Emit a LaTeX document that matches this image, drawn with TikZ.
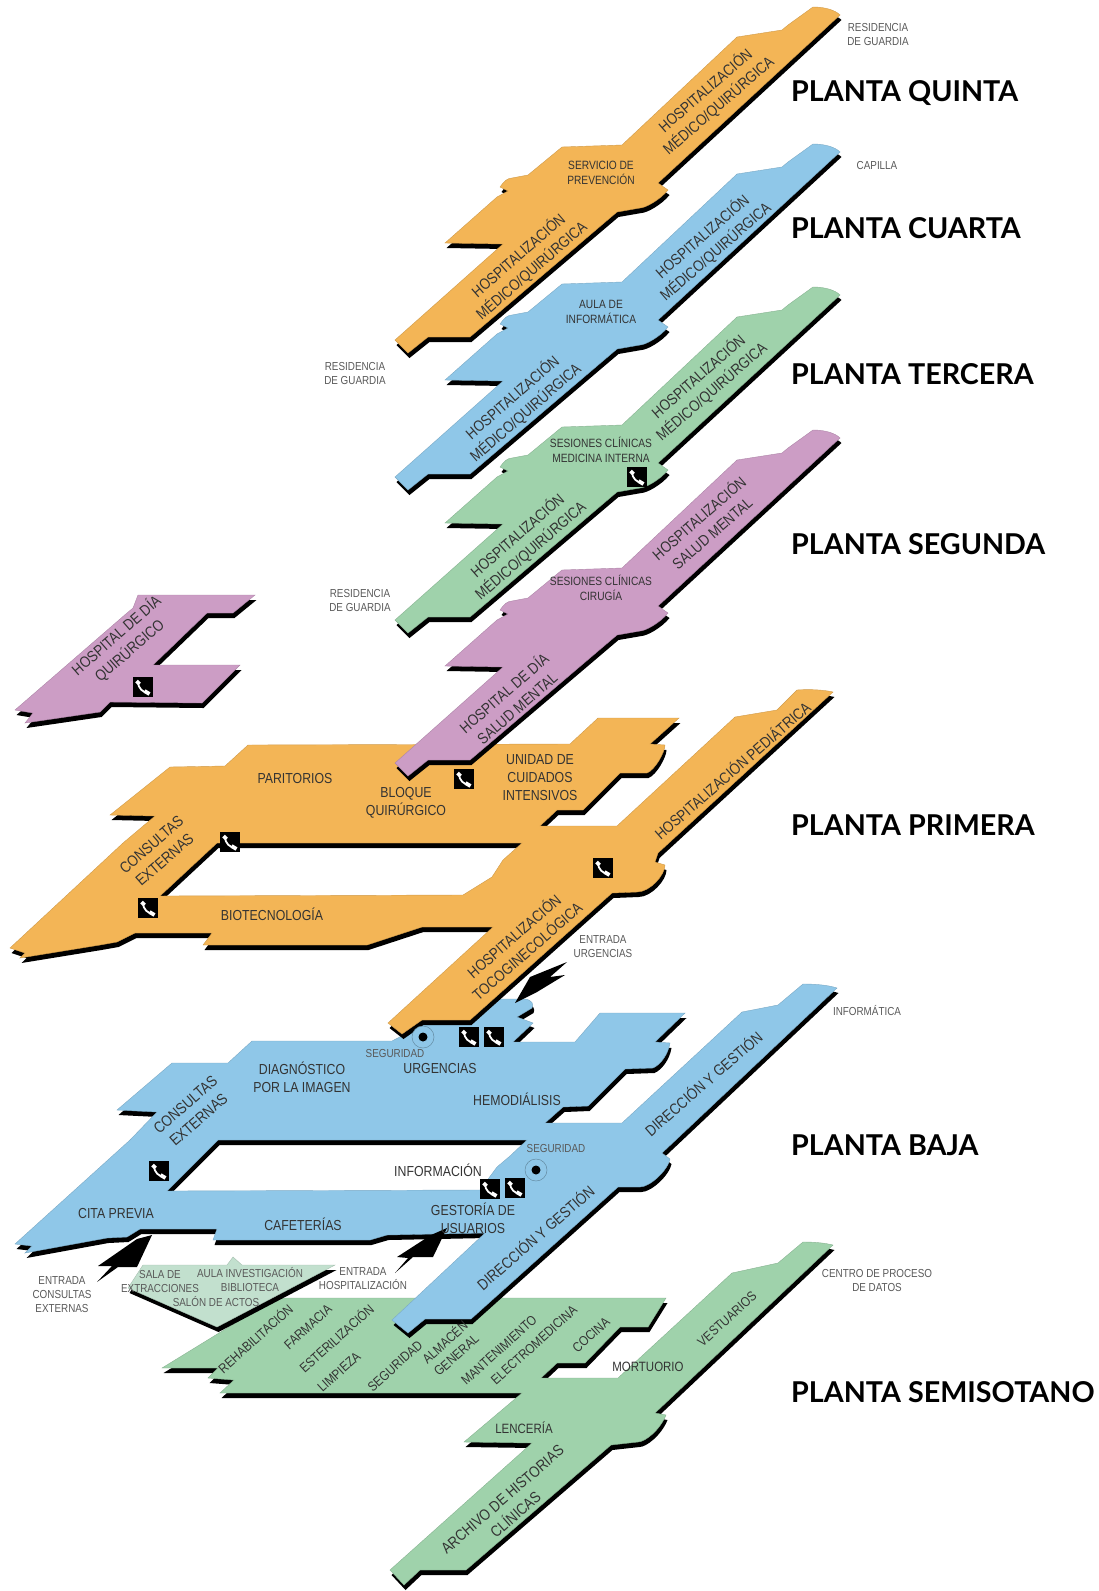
\documentclass[tikz,border=0pt]{standalone}
\usepackage{fontspec}
\setmainfont{Liberation Sans}[FakeStretch=0.85]
\newfontfamily\titulofont{Lato}

\definecolor{naranja}{HTML}{F3B556}
\definecolor{azul}{HTML}{8FC7E8}
\definecolor{verde}{HTML}{9FD2AB}
\definecolor{malva}{HTML}{CC9DC5}
\definecolor{verdeclaro}{HTML}{C2E0CE}

\newcommand{\planta}[2]{%
    \fill[black, even odd rule, shift={(1.5,5)}] #2;
    \filldraw[#1, draw=#1!85!black, line width=0.4pt, even odd rule] #2;
}
\newcommand{\torre}{(813,7) .. controls (825,7) and (835,10) .. (840,15) -- (658,183) -- (668,190)
    .. controls (660,200) and (645,208) .. (640,208) -- (617,212) -- (470,337) -- (428,337) -- (408,353)
    -- (395,340) -- (503,244) -- (445,243) -- (497,197) -- (508,191) -- (500,187)
    .. controls (504,181) and (508,178) .. (512,178) -- (528,175) -- (562,147) -- (622,145) -- (737,37)
    -- (782,30) -- (788,25) -- cycle}

\tikzset{
    grande/.style={text=black!80, font=\fontsize{14.5}{18}\selectfont, align=center, inner sep=0pt},
    giro/.style={text=black!80, font=\fontsize{15.5}{20}\selectfont, align=center, inner sep=0pt, rotate=41},
    media/.style={text=black!80, font=\fontsize{12}{15}\selectfont, align=center, inner sep=0pt},
    sotano/.style={text=black!80, font=\fontsize{13.5}{17}\selectfont, align=center, inner sep=0pt},
    rotulo/.style={text=black!65, font=\fontsize{11.6}{14}\selectfont, align=center, inner sep=0pt},
    titulo/.style={anchor=west, text=black, inner sep=0pt, font=\titulofont\bfseries\fontsize{28.7}{30}\selectfont},
    telefono/.pic={
        \fill[black] (-10,-10) rectangle (10,10);
        \draw[white, line width=1.8pt] (-5,-5) .. controls (-5,1) and (0,6) .. (6,6);
        \draw[white, line width=3.8pt] (-6.5,-6) -- (-3.5,-3);
        \draw[white, line width=3.8pt] (1.5,4) -- (6.5,7);
    },
    seguridad/.pic={
        \draw[azul!70!black, line width=0.5pt, fill=azul] (0,0) circle (11);
        \fill[black] (0,0) circle (4.5);
    }
}

\begin{document}
\begin{tikzpicture}[x=1pt, y=-1pt]
    \useasboundingbox (0,0) rectangle (1099,1591);

    % semisotano
    \planta{verde}{(803,1242) .. controls (815,1242) and (825,1243) .. (833,1245) -- (655,1413) -- (666,1415)
        .. controls (660,1430) and (645,1442) .. (638,1442) -- (611,1445) -- (466,1570) -- (420,1570) -- (404,1585)
        -- (390,1570) -- (532,1443) -- (464,1442) -- (522,1393) -- (220,1393) -- (234,1380) -- (208,1378)
        -- (218,1368) -- (162,1368) -- (276,1298) -- (666,1298) -- (648,1327) -- (620,1327) -- (585,1363)
        -- (557,1363) -- (541,1378) -- (618,1378) -- (732,1273) -- (778,1263) -- cycle}
    \planta{verdeclaro}{(143,1265) -- (227,1265) -- (233,1257) -- (242,1265) -- (335,1265) -- (217,1327) -- (128,1288) -- cycle}

    % baja
    \planta{azul}{(803,984) .. controls (815,984) and (828,985) .. (837,988) -- (662,1153) -- (670,1159)
        .. controls (668,1170) and (650,1187) .. (640,1187) -- (618,1187) -- (471,1319) -- (425,1319) -- (408,1333)
        -- (392,1320) -- (485,1233) -- (387,1235) -- (370,1240) -- (213,1240) -- (217,1229) -- (140,1229)
        -- (127,1237) -- (107,1238) -- (25,1253) -- (32,1246) -- (15,1244) -- (130,1140) -- (157,1112)
        -- (117,1110) -- (172,1063) -- (228,1063) -- (252,1041) -- (392,1041) -- (473,999) -- (525,999)
        .. controls (532,1000) and (534,1004) .. (532,1008) -- (517,1017) -- (533,1023) -- (513,1042) -- (575,1042)
        -- (600,1013) -- (685,1013) -- (655,1042) -- (670,1043) .. controls (668,1055) and (660,1065) .. (653,1068)
        -- (625,1069) -- (588,1106) -- (563,1107) -- (545,1123) -- (622,1123) -- (742,1012) -- (778,1005) -- cycle
        (218,1140) -- (527,1140) -- (510,1156) -- (497,1167) -- (480,1190) -- (167,1191) -- cycle}

    % flechas de entrada
    \fill[black] (515,1003) -- (530,977) -- (567,962) -- (550,977) -- (565,975) -- (537,992) -- cycle;
    \fill[black] (152,1235) -- (137,1267) -- (118,1267) -- (97,1282) -- (112,1266) -- (98,1266) -- (137,1239) -- cycle;
    \fill[black] (447,1228) -- (433,1257) -- (413,1257) -- (395,1273) -- (408,1258) -- (397,1257) -- (431,1235) -- cycle;

    % primera
    \planta{naranja}{(797,690) .. controls (810,689) and (825,690) .. (833,692) -- (658,853) -- (655,862) -- (665,865)
        .. controls (665,875) and (650,892) .. (637,892) -- (612,893) -- (470,1020) -- (422,1020) -- (402,1034)
        -- (388,1023) -- (493,927) -- (422,927) -- (367,945) -- (203,945) -- (212,933) -- (135,933) -- (117,942)
        -- (100,945) -- (20,958) -- (25,953) -- (10,948) -- (123,843) -- (155,816) -- (110,815) -- (170,767)
        -- (225,766) -- (248,745) -- (570,744) -- (598,718) -- (679,718) -- (650,744) -- (665,745)
        .. controls (665,752) and (655,770) .. (647,773) -- (620,773) -- (583,810) -- (557,810) -- (540,826)
        -- (617,826) -- (735,717) -- (777,710) -- cycle
        (217,843) -- (522,843) -- (503,860) -- (492,877) -- (463,895) -- (160,896) -- cycle}

    % malva suelto
    \planta{malva}{(138,595) -- (255,595) -- (233,613) -- (207,613) -- (153,665) -- (240,665) -- (202,703)
        -- (110,702) -- (100,712) -- (25,723) -- (33,713) -- (15,710) -- (127,613) -- (133,608) -- cycle}

    % torre
    \begin{scope}[shift={(0,423)}]
        \planta{malva}{\torre}
    \end{scope}
    \begin{scope}[shift={(0,280)}]
        \planta{verde}{\torre}
    \end{scope}
    \begin{scope}[shift={(0,137)}]
        \planta{azul}{\torre}
    \end{scope}
    \planta{naranja}{\torre}

    % telefonos
    \pic at (637,477) {telefono};
    \pic at (143,687) {telefono};
    \pic at (464,779) {telefono};
    \pic at (603,868) {telefono};
    \pic at (230,842) {telefono};
    \pic at (148,908) {telefono};
    \pic at (469,1037) {telefono};
    \pic at (494,1037) {telefono};
    \pic at (490,1189) {telefono};
    \pic at (515,1188) {telefono};
    \pic at (159,1171) {telefono};
    \pic at (423,1037) {seguridad};
    \pic at (536,1170) {seguridad};

    % titulos
    \node[titulo] (quinta) at (791,93) {PLANTA QUINTA};
    \node[titulo] (cuarta) at (791,228) {PLANTA CUARTA};
    \node[titulo] (tercera) at (791,374) {PLANTA TERCERA};
    \node[titulo] (segunda) at (791,544) {PLANTA SEGUNDA};
    \node[titulo] (primera) at (791,825) {PLANTA PRIMERA};
    \node[titulo] (baja) at (791,1145) {PLANTA BAJA};
    \node[titulo] (semisotano) at (791,1392) {PLANTA SEMISOTANO};

    % rotulos exteriores
    \node[rotulo] (resq) at (878,35) {RESIDENCIA\\DE GUARDIA};
    \node[rotulo] (capilla) at (877,166) {CAPILLA};
    \node[rotulo] (rest) at (355,373) {RESIDENCIA\\DE GUARDIA};
    \node[rotulo] (ress) at (360,600) {RESIDENCIA\\DE GUARDIA};
    \node[rotulo] (informatica) at (867,1011) {INFORMÁTICA};
    \node[rotulo] (cpd) at (877,1280) {CENTRO DE PROCESO\\DE DATOS};
    \node[rotulo] (eurgencias) at (603,947) {ENTRADA\\URGENCIAS};
    \node[rotulo] (econsultas) at (62,1295) {ENTRADA\\CONSULTAS\\EXTERNAS};
    \node[rotulo] (ehosp) at (363,1279) {ENTRADA\\HOSPITALIZACIÓN};

    % quinta a segunda
    \node[giro] (q1) at (712,98) {HOSPITALIZACIÓN\\MÉDICO/QUIRÚRGICA};
    \node[media] (q2) at (601,173) {SERVICIO DE\\PREVENCIÓN};
    \node[giro] (q3) at (525,263) {HOSPITALIZACIÓN\\MÉDICO/QUIRÚRGICA};
    \node[giro] (c1) at (709,244) {HOSPITALIZACIÓN\\MÉDICO/QUIRÚRGICA};
    \node[media] (c2) at (601,312) {AULA DE\\INFORMÁTICA};
    \node[giro] (c3) at (519,405) {HOSPITALIZACIÓN\\MÉDICO/QUIRÚRGICA};
    \node[giro] (t1) at (705,384) {HOSPITALIZACIÓN\\MÉDICO/QUIRÚRGICA};
    \node[media] (t2) at (601,450) {SESIONES CLÍNICAS\\MEDICINA INTERNA};
    \node[giro] (t3) at (524,543) {HOSPITALIZACIÓN\\MÉDICO/QUIRÚRGICA};
    \node[giro] (s1) at (705,525) {HOSPITALIZACIÓN\\SALUD MENTAL};
    \node[media] (s2) at (601,588) {SESIONES CLÍNICAS\\CIRUGÍA};
    \node[giro] (s3) at (510,700) {HOSPITAL DE DÍA\\SALUD MENTAL};
    \node[giro] (s4) at (123,643) {HOSPITAL DE DÍA\\QUIRÚRGICO};

    % primera
    \node[grande] (paritorios) at (295,778) {PARITORIOS};
    \node[grande] (bloque) at (406,803) {BLOQUE\\QUIRÚRGICO};
    \node[grande] (uci) at (540,778) {UNIDAD DE\\CUIDADOS\\INTENSIVOS};
    \node[giro] (pconsultas) at (158,852) {CONSULTAS\\EXTERNAS};
    \node[grande] (biotec) at (272,914) {BIOTECNOLOGÍA};
    \node[giro] (pediatrica) at (732,770) {HOSPITALIZACIÓN PEDIÁTRICA};
    \node[giro] (toco) at (520,943) {HOSPITALIZACIÓN\\TOCOGINECOLÓGICA};

    % baja
    \node[rotulo] (seg1) at (395,1053) {SEGURIDAD};
    \node[grande] (urgencias) at (440,1068) {URGENCIAS};
    \node[grande] (diagnostico) at (302,1077) {DIAGNÓSTICO\\POR LA IMAGEN};
    \node[grande] (hemo) at (517,1099) {HEMODIÁLISIS};
    \node[giro] (bconsultas) at (192,1112) {CONSULTAS\\EXTERNAS};
    \node[grande] (info) at (438,1170) {INFORMACIÓN};
    \node[rotulo] (seg2) at (556,1148) {SEGURIDAD};
    \node[grande] (gestoria) at (473,1218) {GESTORÍA DE\\USUARIOS};
    \node[grande] (cita) at (116,1213) {CITA PREVIA};
    \node[grande] (cafeterias) at (303,1224) {CAFETERÍAS};
    \node[giro] (dir1) at (703,1083) {DIRECCIÓN Y GESTIÓN};
    \node[giro] (dir2) at (535,1237) {DIRECCIÓN Y GESTIÓN};

    % anexo
    \node[rotulo] (sala) at (160,1281) {SALA DE\\EXTRACCIONES};
    \node[rotulo] (aula) at (250,1280) {AULA INVESTIGACIÓN\\BIBLIOTECA};
    \node[rotulo] (salon) at (216,1302) {SALÓN DE ACTOS};

    % semisotano
    \node[sotano, rotate=42] (rehab) at (255,1338) {REHABILITACIÓN};
    \node[sotano, rotate=42] (farmacia) at (308,1327) {FARMACIA};
    \node[sotano, rotate=42] (esteril) at (336,1338) {ESTERILIZACIÓN};
    \node[sotano, rotate=42] (limpieza) at (339,1372) {LIMPIEZA};
    \node[sotano, rotate=42] (seg3) at (395,1366) {SEGURIDAD};
    \node[sotano, rotate=42] (almacen) at (450,1348) {ALMACÉN\\GENERAL};
    \node[sotano, rotate=42] (mant) at (499,1350) {MANTENIMIENTO};
    \node[sotano, rotate=42] (electro) at (534,1345) {ELECTROMEDICINA};
    \node[sotano, rotate=42] (cocina) at (591,1335) {COCINA};
    \node[sotano] (mortuorio) at (648,1367) {MORTUORIO};
    \node[sotano] (lenceria) at (524,1428) {LENCERÍA};
    \node[giro] (archivo) at (509,1507) {ARCHIVO DE HISTORIAS\\CLÍNICAS};
    \node[sotano, rotate=42] (vestuarios) at (727,1319) {VESTUARIOS};
\end{tikzpicture}
\end{document}
